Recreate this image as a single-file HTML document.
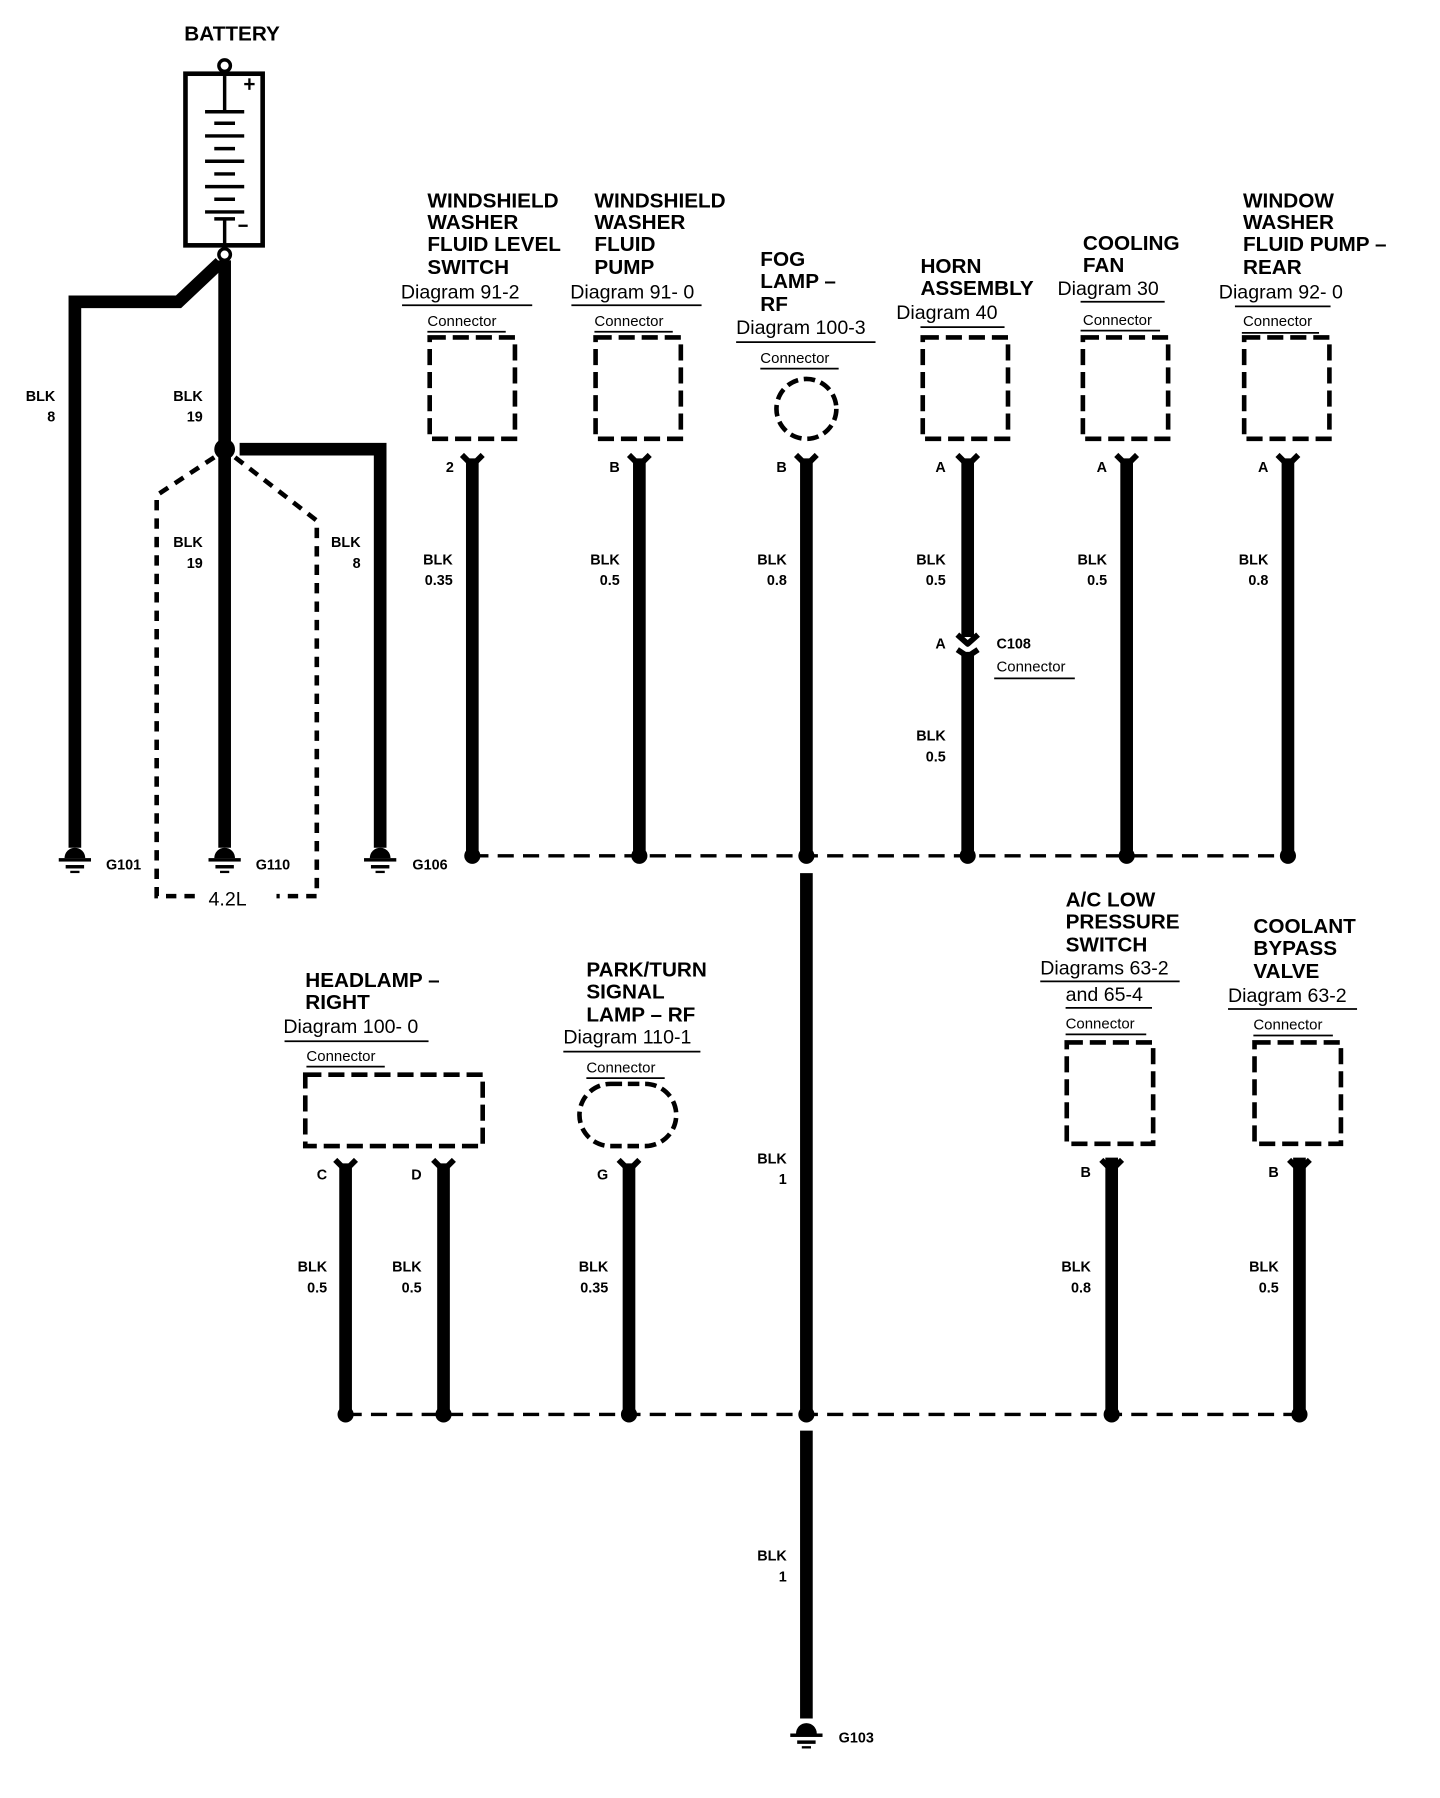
<!DOCTYPE html>
<html><head><meta charset="utf-8"><style>
html,body{margin:0;padding:0;background:#fff}
svg{display:block}
.t{font:bold 18px "Liberation Sans",sans-serif}
.d{font:17px "Liberation Sans",sans-serif}
.c{font:13px "Liberation Sans",sans-serif}
.s{font:bold 12.5px "Liberation Sans",sans-serif}
</style></head><body>
<svg width="1440" height="1798" viewBox="0 0 1250 1561" preserveAspectRatio="none" xmlns="http://www.w3.org/2000/svg">
<g fill="none" stroke="#000">
<!-- battery -->
<rect x="161" y="64" width="67" height="149" stroke-width="4"/>
<circle cx="195" cy="57" r="5" stroke-width="3" fill="#fff"/>
<circle cx="195" cy="221" r="5" stroke-width="3" fill="#fff"/>
<g stroke-width="3">
<line x1="195" y1="66" x2="195" y2="97"/><line x1="195" y1="190" x2="195" y2="212"/>
<line x1="178" y1="97" x2="212" y2="97"/><line x1="186" y1="107" x2="204" y2="107"/>
<line x1="178" y1="118" x2="212" y2="118"/><line x1="186" y1="129" x2="204" y2="129"/>
<line x1="178" y1="140" x2="212" y2="140"/><line x1="186" y1="151" x2="204" y2="151"/>
<line x1="178" y1="162" x2="212" y2="162"/><line x1="186" y1="173" x2="204" y2="173"/>
<line x1="178" y1="184" x2="212" y2="184"/><line x1="186" y1="190" x2="204" y2="190"/>
</g>
<g stroke-width="2">
<line x1="212" y1="73" x2="221" y2="73"/><line x1="216.5" y1="68" x2="216.5" y2="78"/>
<line x1="207" y1="196" x2="215" y2="196"/>
</g>
<!-- battery wires -->
<g stroke-width="11">
<polyline points="191,228 155,262 65,262 65,736"/>
<line x1="195" y1="226" x2="195" y2="736"/>
<polyline points="208,390 330,390 330,736"/>
</g>
<g stroke-width="4" stroke-dasharray="9,7">
<polyline points="186,397 136,430 136,778 170,778"/>
<polyline points="204,397 275,452 275,778 240,778"/>
</g>
<!-- connectors -->
<g stroke-width="4" stroke-dasharray="14,6">
<rect x="373" y="293" width="74" height="88"/>
<rect x="517" y="293" width="74" height="88"/>
<rect x="801" y="293" width="74" height="88"/>
<rect x="940" y="293" width="74" height="88"/>
<rect x="1080" y="293" width="74" height="88"/>
<circle cx="700" cy="355" r="26" stroke-dasharray="10,5"/>
<rect x="265" y="933" width="154" height="62"/>
<rect x="926" y="905" width="75" height="88"/>
<rect x="1089" y="905" width="75" height="88"/>
<rect x="503" y="941" width="84" height="54" rx="27" stroke-dasharray="10,5"/>
</g>
<g stroke-width="11">
<line x1="410" y1="398" x2="410" y2="743"/>
<line x1="555" y1="398" x2="555" y2="743"/>
<line x1="700" y1="398" x2="700" y2="743"/>
<line x1="840" y1="398" x2="840" y2="553"/>
<line x1="840" y1="566" x2="840" y2="743"/>
<line x1="978" y1="398" x2="978" y2="743"/>
<line x1="1118" y1="398" x2="1118" y2="743"/>
<line x1="700" y1="758" x2="700" y2="1228"/>
<line x1="700" y1="1242" x2="700" y2="1492"/>
<line x1="300" y1="1010" x2="300" y2="1228"/>
<line x1="385" y1="1010" x2="385" y2="1228"/>
<line x1="546" y1="1010" x2="546" y2="1228"/>
<line x1="965" y1="1005" x2="965" y2="1228"/>
<line x1="1128" y1="1005" x2="1128" y2="1228"/>
</g>
<g stroke-width="5" stroke-linejoin="round">
<path d="M401 395 L410 404 L419 395"/><path d="M546 395 L555 404 L564 395"/>
<path d="M691 395 L700 404 L709 395"/><path d="M831 395 L840 404 L849 395"/>
<path d="M969 395 L978 404 L987 395"/><path d="M1109 395 L1118 404 L1127 395"/>
<path d="M291 1007 L300 1016 L309 1007"/><path d="M376 1007 L385 1016 L394 1007"/>
<path d="M537 1007 L546 1016 L555 1007"/><path d="M956 1007 L965 1016 L974 1007"/>
<path d="M1119 1007 L1128 1016 L1137 1007"/>
<path d="M831 551 L840 559 L849 551"/><path d="M831 564 L840 570 L849 564"/>
</g>
<g stroke-width="3" stroke-dasharray="14,8">
<line x1="410" y1="743" x2="1118" y2="743"/>
<line x1="300" y1="1228" x2="1128" y2="1228"/>
</g>
<!-- underlines -->
<g stroke-width="1.5">
<line x1="349" y1="265" x2="462" y2="265"/><line x1="371" y1="288" x2="439" y2="288"/>
<line x1="496" y1="265" x2="609" y2="265"/><line x1="516" y1="288" x2="584" y2="288"/>
<line x1="639" y1="297" x2="760" y2="297"/><line x1="660" y1="320" x2="728" y2="320"/>
<line x1="799" y1="284" x2="872" y2="284"/>
<line x1="938" y1="262" x2="1011" y2="262"/><line x1="938" y1="287" x2="1007" y2="287"/>
<line x1="1072" y1="266" x2="1155" y2="266"/><line x1="1078" y1="289" x2="1145" y2="289"/>
<line x1="863" y1="589" x2="933" y2="589"/>
<line x1="247" y1="904" x2="372" y2="904"/><line x1="266" y1="926" x2="334" y2="926"/>
<line x1="489" y1="913" x2="608" y2="913"/><line x1="509" y1="936" x2="577" y2="936"/>
<line x1="903" y1="852" x2="1024" y2="852"/><line x1="925" y1="875" x2="1000" y2="875"/>
<line x1="925" y1="898" x2="995" y2="898"/>
<line x1="1066" y1="876" x2="1178" y2="876"/><line x1="1088" y1="899" x2="1157" y2="899"/>
</g>
</g>
<!-- dots -->
<g fill="#000">
<circle cx="195" cy="390" r="9"/>
<circle cx="410" cy="743" r="7"/><circle cx="555" cy="743" r="7"/><circle cx="700" cy="743" r="7"/>
<circle cx="840" cy="743" r="7"/><circle cx="978" cy="743" r="7"/><circle cx="1118" cy="743" r="7"/>
<circle cx="300" cy="1228" r="7"/><circle cx="385" cy="1228" r="7"/><circle cx="546" cy="1228" r="7"/>
<circle cx="700" cy="1228" r="7"/><circle cx="965" cy="1228" r="7"/><circle cx="1128" cy="1228" r="7"/>
</g>
<!-- grounds -->
<g fill="#000">
<g transform="translate(65,745)"><path d="M-9 0 A9 9 0 0 1 9 0 Z"/><rect x="-14" y="0" width="28" height="3"/><rect x="-8" y="6" width="16" height="3"/><rect x="-4" y="11" width="8" height="2"/></g>
<g transform="translate(195,745)"><path d="M-9 0 A9 9 0 0 1 9 0 Z"/><rect x="-14" y="0" width="28" height="3"/><rect x="-8" y="6" width="16" height="3"/><rect x="-4" y="11" width="8" height="2"/></g>
<g transform="translate(330,745)"><path d="M-9 0 A9 9 0 0 1 9 0 Z"/><rect x="-14" y="0" width="28" height="3"/><rect x="-8" y="6" width="16" height="3"/><rect x="-4" y="11" width="8" height="2"/></g>
<g transform="translate(700,1505)"><path d="M-9 0 A9 9 0 0 1 9 0 Z"/><rect x="-14" y="0" width="28" height="3"/><rect x="-8" y="6" width="16" height="3"/><rect x="-4" y="11" width="8" height="2"/></g>
</g>
<g fill="#000">
<text class="t" x="160" y="35">BATTERY</text>
<text class="s" x="92" y="755">G101</text><text class="s" x="222" y="755">G110</text>
<text class="s" x="358" y="755">G106</text><text class="s" x="728" y="1513">G103</text>
<text class="d" x="181" y="786">4.2L</text>
<g class="s" text-anchor="end">
<text x="48" y="348">BLK</text><text x="48" y="366">8</text>
<text x="176" y="348">BLK</text><text x="176" y="366">19</text>
<text x="176" y="475">BLK</text><text x="176" y="493">19</text>
<text x="313" y="475">BLK</text><text x="313" y="493">8</text>
<text x="393" y="490">BLK</text><text x="393" y="508">0.35</text>
<text x="538" y="490">BLK</text><text x="538" y="508">0.5</text>
<text x="683" y="490">BLK</text><text x="683" y="508">0.8</text>
<text x="821" y="490">BLK</text><text x="821" y="508">0.5</text>
<text x="821" y="643">BLK</text><text x="821" y="661">0.5</text>
<text x="961" y="490">BLK</text><text x="961" y="508">0.5</text>
<text x="1101" y="490">BLK</text><text x="1101" y="508">0.8</text>
<text x="683" y="1010">BLK</text><text x="683" y="1028">1</text>
<text x="683" y="1355">BLK</text><text x="683" y="1373">1</text>
<text x="284" y="1104">BLK</text><text x="284" y="1122">0.5</text>
<text x="366" y="1104">BLK</text><text x="366" y="1122">0.5</text>
<text x="528" y="1104">BLK</text><text x="528" y="1122">0.35</text>
<text x="947" y="1104">BLK</text><text x="947" y="1122">0.8</text>
<text x="1110" y="1104">BLK</text><text x="1110" y="1122">0.5</text>
<text x="394" y="410">2</text><text x="538" y="410">B</text><text x="683" y="410">B</text>
<text x="821" y="410">A</text><text x="961" y="410">A</text><text x="1101" y="410">A</text>
<text x="821" y="563">A</text>
<text x="284" y="1024">C</text><text x="366" y="1024">D</text><text x="528" y="1024">G</text>
<text x="947" y="1022">B</text><text x="1110" y="1022">B</text>
</g>
<text class="s" x="865" y="563">C108</text><text class="c" x="865" y="583">Connector</text>
<g class="t">
<text x="371" y="180">WINDSHIELD</text><text x="371" y="199">WASHER</text><text x="371" y="218">FLUID LEVEL</text><text x="371" y="238">SWITCH</text>
<text x="516" y="180">WINDSHIELD</text><text x="516" y="199">WASHER</text><text x="516" y="218">FLUID</text><text x="516" y="238">PUMP</text>
<text x="660" y="231">FOG</text><text x="660" y="250">LAMP –</text><text x="660" y="270">RF</text>
<text x="799" y="237">HORN</text><text x="799" y="256">ASSEMBLY</text>
<text x="940" y="217">COOLING</text><text x="940" y="236">FAN</text>
<text x="1079" y="180">WINDOW</text><text x="1079" y="199">WASHER</text><text x="1079" y="218">FLUID PUMP –</text><text x="1079" y="238">REAR</text>
<text x="265" y="857">HEADLAMP –</text><text x="265" y="876">RIGHT</text>
<text x="509" y="848">PARK/TURN</text><text x="509" y="867">SIGNAL</text><text x="509" y="887">LAMP – RF</text>
<text x="925" y="787">A/C LOW</text><text x="925" y="806">PRESSURE</text><text x="925" y="826">SWITCH</text>
<text x="1088" y="810">COOLANT</text><text x="1088" y="829">BYPASS</text><text x="1088" y="849">VALVE</text>
</g>
<g class="d">
<text x="348" y="259">Diagram 91-2</text><text x="495" y="259">Diagram 91- 0</text>
<text x="639" y="290">Diagram 100-3</text><text x="778" y="277">Diagram 40</text>
<text x="918" y="256">Diagram 30</text><text x="1058" y="259">Diagram 92- 0</text>
<text x="246" y="897">Diagram 100- 0</text><text x="489" y="906">Diagram 110-1</text>
<text x="903" y="846">Diagrams 63-2</text><text x="925" y="869">and 65-4</text>
<text x="1066" y="870">Diagram 63-2</text>
</g>
<g class="c">
<text x="371" y="283">Connector</text><text x="516" y="283">Connector</text><text x="660" y="315">Connector</text>
<text x="940" y="282">Connector</text><text x="1079" y="283">Connector</text>
<text x="266" y="921">Connector</text><text x="509" y="931">Connector</text>
<text x="925" y="893">Connector</text><text x="1088" y="894">Connector</text>
</g>
</g>
</svg>
</body></html>
